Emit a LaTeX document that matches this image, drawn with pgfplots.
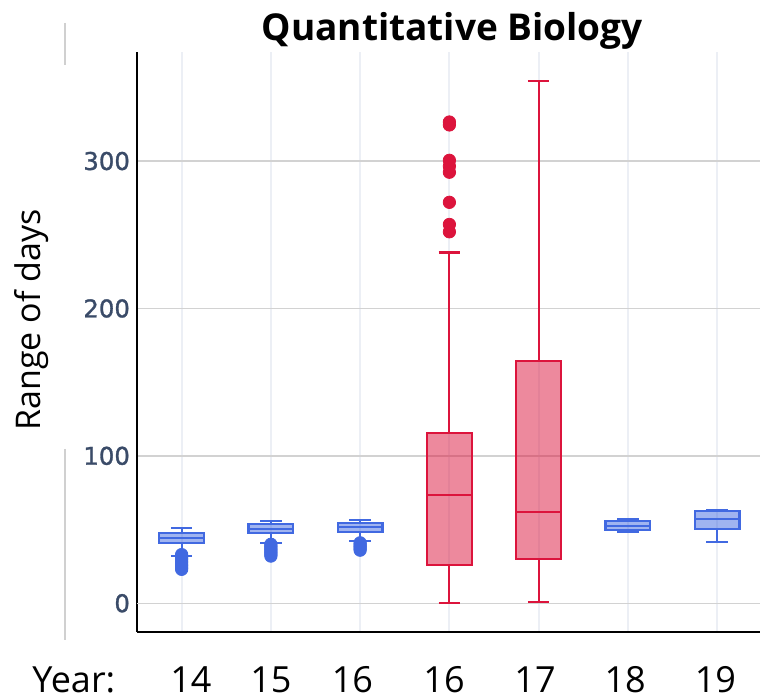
\documentclass[border=0pt]{standalone}
\usepackage{pgfplots}
\pgfplotsset{compat=1.18}
\usepackage{fontspec}
\setmainfont{Open Sans}
\newfontfamily\dejavu{DejaVu Sans}[BoldFont={DejaVu Sans}, BoldFeatures={FakeBold=1.2}]
\definecolor{blueC}{HTML}{4169E1}
\definecolor{redC}{HTML}{DC143C}
\definecolor{tickC}{HTML}{3A4B68}
\definecolor{gridH}{HTML}{D2D2D2}
\definecolor{gridV}{HTML}{ECEFF5}
\definecolor{zeroC}{HTML}{E2E7F4}
\definecolor{sideC}{HTML}{D0D0D0}
% outliers: position, value
\pgfplotstableread{
x v
0 23
0 24
0 25
0 26
0 27
0 28
0 29
0 30
0 31
0 32
0 33
1 32
1 33
1 34
1 35
1 36
1 37
1 38
1 39
1 40
2 36
2 37
2 38
2 39
2 40
2 41
}\outBlue
\pgfplotstableread{
x v
3 252
3 257
3 272
3 292.4
3 296.5
3 300.5
3 324.5
3 326.5
}\outRed
\begin{document}
\begin{tikzpicture}
\begin{axis}[
  at={(0pt,0pt)}, anchor=south west,
  scale only axis, width=311.5pt, height=290.15pt,
  xmin=-0.5, xmax=6.48, ymin=-19.5, ymax=374.2,
  axis lines*=left,
  axis line style={black, line width=1.4pt},
  major tick length=0pt,
  xtick={0,...,6}, xticklabels={},
  xmajorgrids, x grid style={gridV, line width=1pt},
  ytick={100,200,300}, ymajorgrids, y grid style={gridH, line width=0.75pt},
  extra y ticks={0}, extra y tick style={grid style={zeroC, line width=1.5pt}},
  extra x ticks={0.104,1,1.913,2.94,3.96,4.97,5.98},
  extra x tick labels={14,15,16,16,17,18,19},
  extra x tick style={grid=none},
  /pgf/number format/assume math mode=true,
  x tick label style={font=\fontsize{18}{18}\selectfont, anchor=base, yshift=-30.5pt, text=black},
  y tick label style={font=\dejavu\bfseries\fontsize{12.2}{12.2}\selectfont, text=tickC},
  ylabel={Range of days},
  ylabel style={font=\fontsize{17}{17}\selectfont, at={(axis description cs:-0.170,0.538)}, anchor=center},
  title={Quantitative Biology},
  title style={font=\bfseries\fontsize{18.5}{18.5}\selectfont, at={(axis description cs:0.506,1)}, anchor=base, yshift=-0.65pt},
  unbounded coords=jump,
]
% ---- Year 14 (blue): lw 32.3, q1 40.9, med 44.3, q3 47.7, uw 51.3
\addplot[draw=blueC, fill=blueC, fill opacity=0.5, line width=1.1pt] coordinates {(-0.25,40.9) (0.25,40.9) (0.25,47.7) (-0.25,47.7)} -- cycle;
\addplot[blueC, line width=1.1pt] coordinates {(0,47.7) (0,51.3) (nan,nan) (-0.12,51.3) (0.12,51.3) (nan,nan) (0,40.9) (0,32.3) (nan,nan) (-0.12,32.3) (0.12,32.3) (nan,nan) (-0.25,44.3) (0.25,44.3)};
% ---- Year 15 (blue): 41.1, 47.5, 50.6, 53.8, 56.0
\addplot[draw=blueC, fill=blueC, fill opacity=0.5, line width=1.1pt] coordinates {(0.75,47.5) (1.25,47.5) (1.25,53.8) (0.75,53.8)} -- cycle;
\addplot[blueC, line width=1.1pt] coordinates {(1,53.8) (1,56.0) (nan,nan) (0.88,56.0) (1.12,56.0) (nan,nan) (1,47.5) (1,41.1) (nan,nan) (0.88,41.1) (1.12,41.1) (nan,nan) (0.75,50.6) (1.25,50.6)};
% ---- Year 16 (blue): 42.3, 48.4, 52.0, 54.7, 56.5
\addplot[draw=blueC, fill=blueC, fill opacity=0.5, line width=1.1pt] coordinates {(1.75,48.4) (2.25,48.4) (2.25,54.7) (1.75,54.7)} -- cycle;
\addplot[blueC, line width=1.1pt] coordinates {(2,54.7) (2,56.5) (nan,nan) (1.88,56.5) (2.12,56.5) (nan,nan) (2,48.4) (2,42.3) (nan,nan) (1.88,42.3) (2.12,42.3) (nan,nan) (1.75,52.0) (2.25,52.0)};
% ---- Year 16 (red): 0.2, 26.0, 73.3, 115.3, 237.9
\addplot[draw=redC, fill=redC, fill opacity=0.5, line width=1.1pt] coordinates {(2.75,26.0) (3.25,26.0) (3.25,115.3) (2.75,115.3)} -- cycle;
\addplot[redC, line width=1.1pt] coordinates {(3,115.3) (3,237.9) (nan,nan) (2.88,237.9) (3.12,237.9) (nan,nan) (3,26.0) (3,0.2) (nan,nan) (2.88,0.2) (3.12,0.2) (nan,nan) (2.75,73.3) (3.25,73.3)};
% ---- Year 17 (red): 1.1, 30.1, 61.7, 164.4, 354.5
\addplot[draw=redC, fill=redC, fill opacity=0.5, line width=1.1pt] coordinates {(3.75,30.1) (4.25,30.1) (4.25,164.4) (3.75,164.4)} -- cycle;
\addplot[redC, line width=1.1pt] coordinates {(4,164.4) (4,354.5) (nan,nan) (3.88,354.5) (4.12,354.5) (nan,nan) (4,30.1) (4,1.1) (nan,nan) (3.88,1.1) (4.12,1.1) (nan,nan) (3.75,61.7) (4.25,61.7)};
% ---- Year 18 (blue): 48.6, 49.7, 52.6, 55.8, 57.0
\addplot[draw=blueC, fill=blueC, fill opacity=0.5, line width=1.1pt] coordinates {(4.75,49.7) (5.25,49.7) (5.25,55.8) (4.75,55.8)} -- cycle;
\addplot[blueC, line width=1.1pt] coordinates {(5,55.8) (5,57.0) (nan,nan) (4.88,57.0) (5.12,57.0) (nan,nan) (5,49.7) (5,48.6) (nan,nan) (4.88,48.6) (5.12,48.6) (nan,nan) (4.75,52.6) (5.25,52.6)};
% ---- Year 19 (blue): 41.4, 50.2, 57.0, 62.6, 63.3
\addplot[draw=blueC, fill=blueC, fill opacity=0.5, line width=1.1pt] coordinates {(5.75,50.2) (6.25,50.2) (6.25,62.6) (5.75,62.6)} -- cycle;
\addplot[blueC, line width=1.1pt] coordinates {(6,62.6) (6,63.3) (nan,nan) (5.88,63.3) (6.12,63.3) (nan,nan) (6,50.2) (6,41.4) (nan,nan) (5.88,41.4) (6.12,41.4) (nan,nan) (5.75,57.0) (6.25,57.0)};
% ---- outliers
\addplot[only marks, mark=*, mark size=3.1pt, mark options={fill=blueC, draw=blueC}] table[x=x, y=v] {\outBlue};
\addplot[only marks, mark=*, mark size=3.1pt, mark options={fill=redC, draw=redC}] table[x=x, y=v] {\outRed};
\end{axis}
\node[anchor=base west, inner sep=0pt, font=\fontsize{18}{18}\selectfont] at (-52.5pt,-30.5pt) {Year:};
\draw[sideC, line width=1pt] (-36pt,304.5pt) -- (-36pt,283.5pt);
\draw[sideC, line width=1pt] (-36pt,91.5pt) -- (-36pt,-4pt);
\pgfresetboundingbox
\useasboundingbox (-68.5pt,-33.5pt) rectangle (311.5pt,316pt);
\end{tikzpicture}
\end{document}
